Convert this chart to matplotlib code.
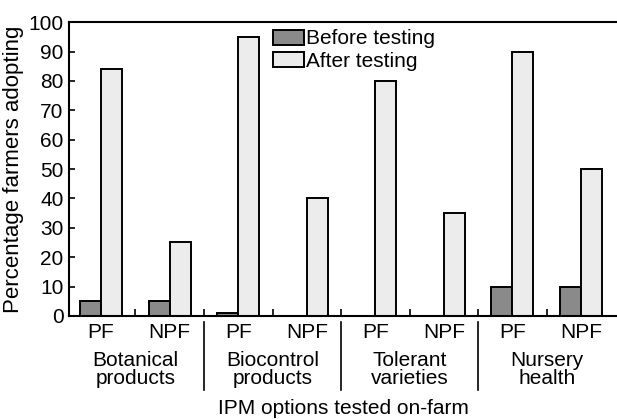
#!/usr/bin/env python3
import numpy as np
import matplotlib

matplotlib.use("Agg")
import matplotlib.pyplot as plt
from matplotlib.transforms import blended_transform_factory

my_rcParams = {
    "font.family": ["Liberation Sans", "DejaVu Sans"],
    "font.size": 15,
    "axes.linewidth": 1.5,
    "xtick.direction": "in",
    "ytick.direction": "in",
    "axes.spines.right": False,
}
plt.rcParams.update(my_rcParams)

## data
farm_types = ["PF", "NPF", "PF", "NPF", "PF", "NPF", "PF", "NPF"]
options = [
    "Botanical\nproducts",
    "Biocontrol\nproducts",
    "Tolerant\nvarieties",
    "Nursery\nhealth",
]
before_testing = [5, 5, 1, 0, 0, 0, 10, 10]
after_testing = [84, 25, 95, 40, 80, 35, 90, 50]


def main():
    fig, ax = plt.subplots(
        1,
        1,
        figsize=(6.17, 4.19),
        dpi=100,
        gridspec_kw={"left": 0.112, "right": 1.0, "top": 0.947, "bottom": 0.246},
    )
    x = np.arange(len(farm_types))
    width = 0.306
    ax.bar(
        x - width / 2,
        before_testing,
        width,
        color="#8a8a8a",
        edgecolor="black",
        linewidth=1.4,
        label="Before testing",
    )
    ax.bar(
        x + width / 2,
        after_testing,
        width,
        color="#ececec",
        edgecolor="black",
        linewidth=1.4,
        label="After testing",
    )

    ax.set_xlim(-0.467, 7.525)
    ax.set_ylim(0, 100)
    ax.set_yticks(np.arange(0, 101, 10))
    ax.tick_params(axis="y", length=4, width=1.2, pad=4)

    ## PF/NPF labels sit at pair centres, ticks sit between pairs
    ax.set_xticks(x)
    ax.set_xticklabels(farm_types)
    ax.tick_params(axis="x", which="major", length=0, pad=5)
    ax.set_xticks(np.arange(0.5, len(farm_types) - 1, 1.0), minor=True)
    ax.tick_params(axis="x", which="minor", length=5, width=1.2)

    trans = blended_transform_factory(ax.transData, ax.transAxes)
    for i, name in enumerate(options):
        ax.text(
            2 * i + 0.5,
            -0.118,
            name,
            transform=trans,
            ha="center",
            va="top",
            linespacing=0.95,
        )
    for sep in [1.5, 3.5, 5.5]:
        ax.plot(
            [sep, sep],
            [-0.02, -0.252],
            transform=trans,
            color="black",
            linewidth=1.2,
            clip_on=False,
        )

    fig.text(
        (0.112 + 1.0) / 2,
        5 / 419,
        "IPM options tested on-farm",
        ha="center",
        va="baseline",
    )
    ax.set_ylabel("Percentage farmers adopting", fontsize=16, labelpad=3)

    ax.legend(
        loc="upper left",
        bbox_to_anchor=(0.345, 1.025),
        frameon=False,
        handlelength=1.5,
        handleheight=0.75,
        handletextpad=0.1,
        labelspacing=0.15,
        borderpad=0.2,
    )
    fig.savefig("out.png", dpi=100)


if __name__ == "__main__":
    main()
